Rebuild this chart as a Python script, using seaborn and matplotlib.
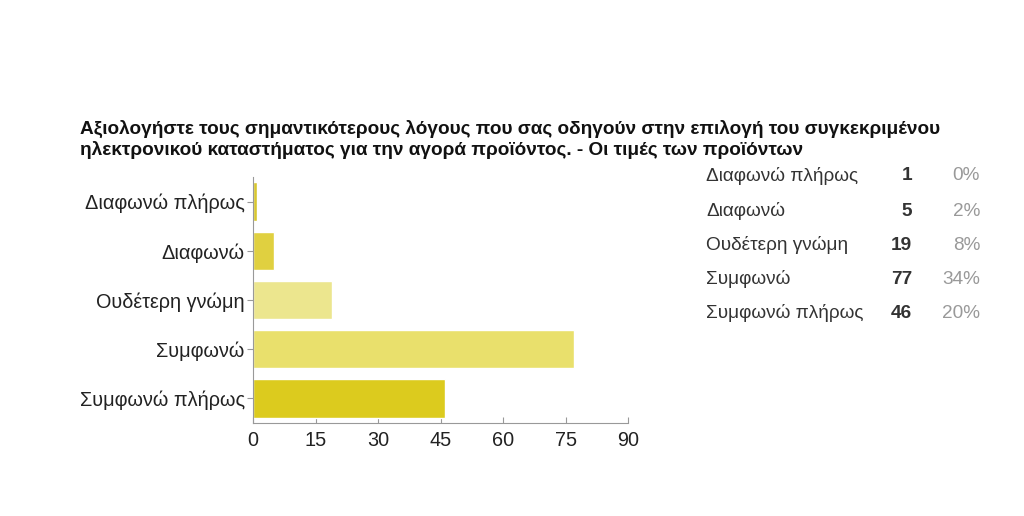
import matplotlib
matplotlib.use("Agg")
import matplotlib.pyplot as plt
import seaborn as sns
import pandas as pd

categories = ["Διαφωνώ πλήρως", "Διαφωνώ", "Ουδέτερη γνώμη", "Συμφωνώ", "Συμφωνώ πλήρως"]
counts = [1, 5, 19, 77, 46]
percents = ["0%", "2%", "8%", "34%", "20%"]
xticks = [0, 15, 30, 45, 60, 75, 90]
bar_colors = ["#d8c72e", "#e0d040", "#ece68e", "#e9e06c", "#dccb1e"]
title = ("Αξιολογήστε τους σημαντικότερους λόγους που σας οδηγούν στην επιλογή του συγκεκριμένου\n"
         "ηλεκτρονικού καταστήματος για την αγορά προϊόντος. - Οι τιμές των προϊόντων")

sns.set_style("white")
plt.rcParams['font.family'] = ['Liberation Sans', 'DejaVu Sans']

df = pd.DataFrame({"cat": categories, "count": counts})

fig = plt.figure(figsize=(10.24, 5.16), dpi=100)
W, H = 1024, 516
ax = fig.add_axes([253 / W, 1 - 423 / H, (628 - 253) / W, (423 - 177) / H])

sns.barplot(data=df, x="count", y="cat", hue="cat", palette=bar_colors, legend=False,
            orient="h", width=0.78, ax=ax, saturation=1)

ax.set_xlim(0, 90)
ax.set_ylim(4.5, -0.5)
ax.set_xticks(xticks)
ax.set_xlabel("")
ax.set_ylabel("")
for s in ["top", "right"]:
    ax.spines[s].set_visible(False)
for s in ["left", "bottom"]:
    ax.spines[s].set_color("#999999")
    ax.spines[s].set_linewidth(0.8)
ax.tick_params(axis="both", which="both", length=4, color="#999999", width=0.8,
               labelcolor="#222222", pad=2)
ax.tick_params(axis="y", left=True, direction="out", labelsize=14.3)
ax.tick_params(axis="x", bottom=True, direction="in", pad=6, labelsize=14.3)

fig.text(80 / W, 1 - 120 / H, title, ha="left", va="top", fontsize=13.7,
         fontweight="bold", color="#111111", linespacing=1.2)

rows_y = [176, 211, 245, 279, 313]
for cat, c, p, y in zip(categories, counts, percents, rows_y):
    fig.text(706 / W, 1 - y / H, cat, ha="left", va="center", fontsize=13.7, color="#333333")
    fig.text(912 / W, 1 - y / H, str(c), ha="right", va="center", fontsize=13.7,
             fontweight="bold", color="#333333")
    fig.text(980 / W, 1 - y / H, p, ha="right", va="center", fontsize=13.7, color="#999999")

fig.savefig("out.png", dpi=100)
